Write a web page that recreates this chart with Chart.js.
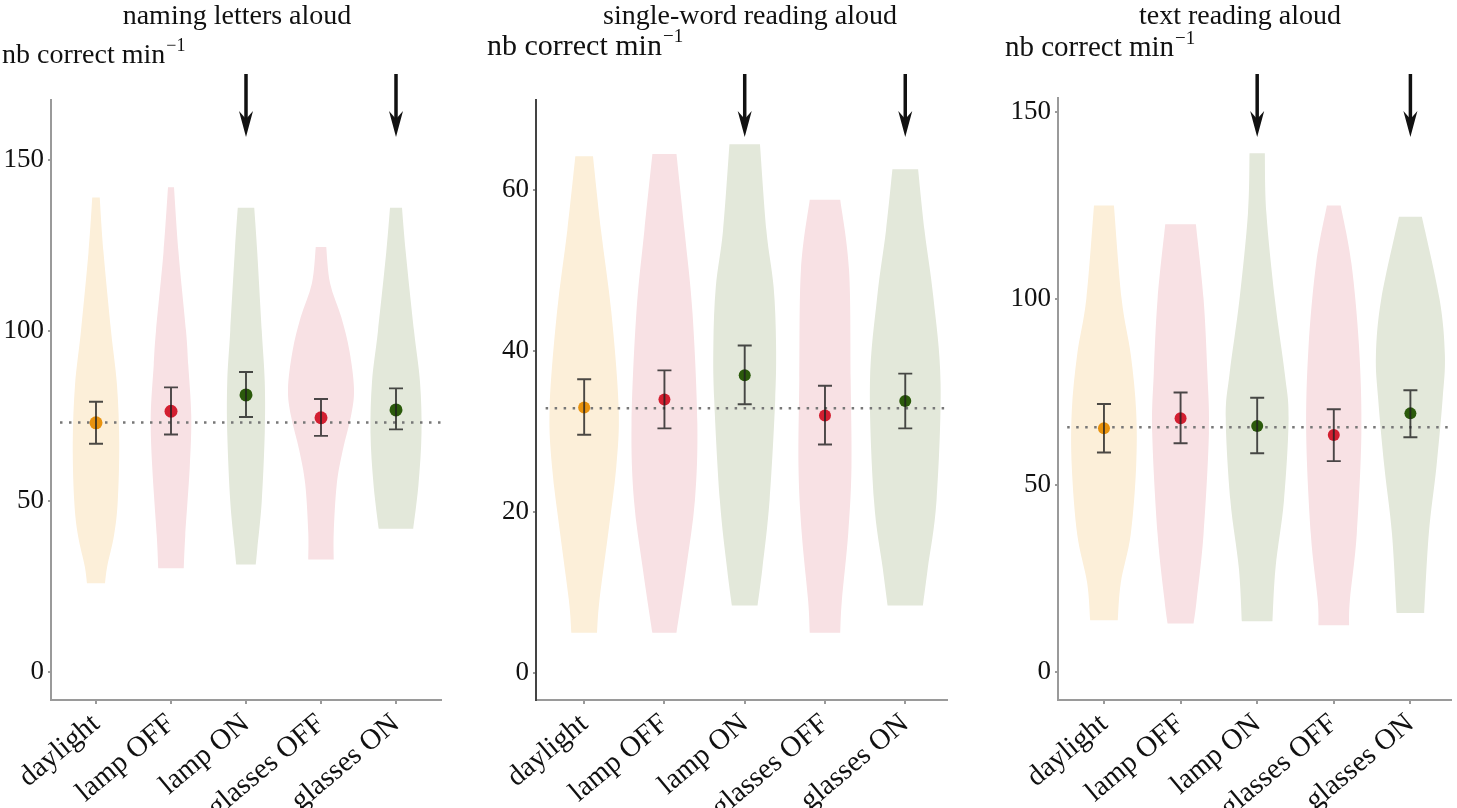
<!DOCTYPE html>
<html>
<head>
<meta charset="utf-8">
<script src="https://cdn.jsdelivr.net/npm/chart.js@4.4.1/dist/chart.umd.min.js"></script>
<style>
  html, body { margin: 0; padding: 0; background: #fff; }
  #wrap { position: relative; width: 1457px; height: 808px; overflow: hidden; }
  canvas { position: absolute; top: 0; }
</style>
</head>
<body>
<div id="wrap">
  <canvas id="letters" width="480" height="808" style="left:0"></canvas>
  <canvas id="words" width="500" height="808" style="left:480px"></canvas>
  <canvas id="text" width="467" height="808" style="left:990px"></canvas>
</div>
<script>
const categories = ['daylight', 'lamp OFF', 'lamp ON', 'glasses OFF', 'glasses ON'];
const panelTitles = ['naming letters aloud', 'single-word reading aloud', 'text reading aloud'];
const yAxisLabel = 'nb correct min';
const yAxisSup = '\u22121';
const arrowCategories = ['lamp ON', 'glasses ON'];

// naming letters aloud
const lettersTicks = [0, 50, 100, 150];
const lettersMean = [73.0, 76.4, 81.2, 74.5, 76.8];
const lettersLow = [66.9, 69.6, 74.7, 69.2, 71.1];
const lettersHigh = [79.2, 83.4, 87.9, 80.0, 83.1];
const lettersBaseline = 73.1;
// violin outlines: [value, half width in category units]
const lettersViolins = [
  [[26, 0.12], [31, 0.15], [40, 0.24], [50, 0.29], [67, 0.31], [84, 0.28], [100, 0.2], [123, 0.1], [139, 0.05]],
  [[30.4, 0.17], [40, 0.19], [60, 0.25], [75, 0.27], [90, 0.23], [100, 0.2], [123, 0.1], [142, 0.04]],
  [[31.5, 0.13], [36, 0.15], [50, 0.21], [70, 0.25], [85, 0.25], [100, 0.21], [123, 0.15], [136, 0.11]],
  [[33, 0.17], [41, 0.17], [55, 0.21], [65, 0.29], [75, 0.4], [83, 0.44], [94, 0.38], [104, 0.27], [114, 0.12], [124.5, 0.07]],
  [[42, 0.23], [55, 0.3], [70, 0.34], [85, 0.32], [100, 0.24], [123, 0.13], [136, 0.08]],
];

// single-word reading aloud
const wordsTicks = [0, 20, 40, 60];
const wordsMean = [33.0, 34.0, 37.0, 32.0, 33.8];
const wordsLow = [29.6, 30.4, 33.4, 28.4, 30.4];
const wordsHigh = [36.5, 37.6, 40.7, 35.7, 37.2];
const wordsBaseline = 32.9;
const wordsViolins = [
  [[5, 0.16], [9, 0.19], [17.4, 0.3], [25.6, 0.4], [33, 0.43], [44.7, 0.34], [55, 0.21], [64.2, 0.11]],
  [[5, 0.15], [13, 0.27], [21.5, 0.38], [31, 0.41], [44.7, 0.35], [55, 0.25], [64.5, 0.15]],
  [[8.4, 0.16], [13, 0.22], [21.5, 0.31], [34, 0.38], [41, 0.39], [48, 0.36], [55, 0.27], [65.7, 0.19]],
  [[5, 0.19], [9, 0.21], [17.4, 0.29], [25.6, 0.33], [36.4, 0.32], [50, 0.3], [58.8, 0.19]],
  [[8.4, 0.22], [13, 0.28], [21.5, 0.39], [36, 0.44], [46.7, 0.35], [55, 0.24], [62.6, 0.16]],
];

// text reading aloud
const textTicks = [0, 50, 100, 150];
const textMean = [65.3, 68.0, 65.9, 63.5, 69.3];
const textLow = [58.8, 61.3, 58.6, 56.5, 62.9];
const textHigh = [71.8, 74.9, 73.5, 70.4, 75.5];
const textBaseline = 65.6;
const textViolins = [
  [[13.9, 0.18], [24, 0.22], [37, 0.35], [55, 0.42], [70, 0.42], [85, 0.35], [100, 0.23], [125, 0.13]],
  [[13, 0.17], [19.3, 0.21], [37, 0.3], [64, 0.37], [80, 0.35], [100, 0.3], [120, 0.2]],
  [[13.6, 0.2], [28, 0.24], [46, 0.35], [68, 0.41], [80, 0.36], [100, 0.23], [123, 0.12], [139, 0.1]],
  [[12.5, 0.2], [19.3, 0.21], [37, 0.3], [64, 0.36], [87, 0.33], [109.5, 0.23], [125, 0.09]],
  [[15.8, 0.18], [37, 0.24], [55, 0.34], [73, 0.42], [85, 0.45], [100, 0.38], [122, 0.15]],
];

const violinColors = ['#fcefd9', '#f8e1e4', '#e3e8da', '#f8e1e4', '#e3e8da'];
const pointColors = ['#e8920e', '#d31f31', '#2b5a0b', '#d31f31', '#2b5a0b'];
const serif = "'Liberation Serif', 'Times New Roman', serif";
const axisGrey = '#9a9a9a';

const panels = [
  {
    id: 'letters', title: panelTitles[0], ticks: lettersTicks, mean: lettersMean, low: lettersLow, high: lettersHigh,
    baseline: lettersBaseline, violins: lettersViolins,
    yMin: -8.2, yMax: 167.6, xMax: 4.6, axisWidth: 51, padRight: 39, padTop: 100,
    titleX: 237, labelX: 2, labelY: 63, labelSize: 28, yBorder: axisGrey, radius: 6.5,
  },
  {
    id: 'words', title: panelTitles[1], ticks: wordsTicks, mean: wordsMean, low: wordsLow, high: wordsHigh,
    baseline: wordsBaseline, violins: wordsViolins,
    yMin: -3.35, yMax: 71.2, xMax: 4.52, axisWidth: 56, padRight: 33, padTop: 100,
    titleX: 270, labelX: 7, labelY: 55, labelSize: 30, yBorder: '#444', radius: 6,
  },
  {
    id: 'text', title: panelTitles[2], ticks: textTicks, mean: textMean, low: textLow, high: textHigh,
    baseline: textBaseline, violins: textViolins,
    yMin: -7.5, yMax: 153.8, xMax: 4.53, axisWidth: 68, padRight: 0, padTop: 98,
    titleX: 250, labelX: 15, labelY: 56, labelSize: 29, yBorder: axisGrey, radius: 6,
  },
];

// catmull-rom through the outline points, so the widest parts keep their width
function smoothEdge(ctx, pts, move) {
  if (move) ctx.moveTo(pts[0].x, pts[0].y);
  else ctx.lineTo(pts[0].x, pts[0].y);
  for (let k = 0; k < pts.length - 1; k++) {
    const p0 = pts[Math.max(k - 1, 0)];
    const p1 = pts[k];
    const p2 = pts[k + 1];
    const p3 = pts[Math.min(k + 2, pts.length - 1)];
    ctx.bezierCurveTo(
      p1.x + (p2.x - p0.x) / 6, p1.y + (p2.y - p0.y) / 6,
      p2.x - (p3.x - p1.x) / 6, p2.y - (p3.y - p1.y) / 6,
      p2.x, p2.y
    );
  }
}

const violinPlugin = {
  id: 'violins',
  beforeDatasetsDraw(chart, args, opts) {
    const { ctx, scales: { x, y }, chartArea } = chart;
    ctx.save();
    opts.violins.forEach((profile, i) => {
      const left = profile.map(([v, w]) => ({ x: x.getPixelForValue(i - w), y: y.getPixelForValue(v) }));
      const right = profile.map(([v, w]) => ({ x: x.getPixelForValue(i + w), y: y.getPixelForValue(v) })).reverse();
      ctx.beginPath();
      smoothEdge(ctx, left, true);
      smoothEdge(ctx, right, false);
      ctx.closePath();
      ctx.fillStyle = violinColors[i];
      ctx.fill();
    });
    // dotted reference line
    const by = y.getPixelForValue(opts.baseline);
    ctx.beginPath();
    ctx.setLineDash([2.5, 6.5]);
    ctx.lineWidth = 2.5;
    ctx.strokeStyle = '#777';
    ctx.moveTo(x.getPixelForValue(-0.48), by);
    ctx.lineTo(chartArea.right, by);
    ctx.stroke();
    ctx.restore();
  },
  afterDatasetsDraw(chart, args, opts) {
    const { ctx, scales: { x, y } } = chart;
    ctx.save();
    ctx.strokeStyle = 'rgba(30,30,30,0.8)';
    ctx.lineWidth = 1.9;
    opts.low.forEach((lo, i) => {
      const px = x.getPixelForValue(i);
      const y1 = y.getPixelForValue(lo);
      const y2 = y.getPixelForValue(opts.high[i]);
      ctx.beginPath();
      ctx.moveTo(px, y1); ctx.lineTo(px, y2);
      ctx.moveTo(px - 7, y1); ctx.lineTo(px + 7, y1);
      ctx.moveTo(px - 7, y2); ctx.lineTo(px + 7, y2);
      ctx.stroke();
    });
    ctx.restore();
  },
  afterDraw(chart, args, opts) {
    const { ctx, scales: { x } } = chart;
    ctx.save();
    // arrows above the highlighted conditions
    ctx.fillStyle = '#111';
    ctx.strokeStyle = '#111';
    arrowCategories.forEach((name) => {
      const ax = x.getPixelForValue(categories.indexOf(name));
      ctx.beginPath();
      ctx.lineWidth = 3.5;
      ctx.moveTo(ax, 74);
      ctx.lineTo(ax, 122);
      ctx.stroke();
      ctx.beginPath();
      ctx.moveTo(ax, 137);
      ctx.lineTo(ax - 7, 111);
      ctx.lineTo(ax, 119);
      ctx.lineTo(ax + 7, 111);
      ctx.closePath();
      ctx.fill();
    });
    // panel title
    ctx.fillStyle = '#111';
    ctx.textBaseline = 'alphabetic';
    ctx.textAlign = 'center';
    ctx.font = `28px ${serif}`;
    ctx.fillText(opts.title, opts.titleX, 24);
    // y axis label with superscript
    ctx.textAlign = 'left';
    ctx.font = `${opts.labelSize}px ${serif}`;
    ctx.fillText(yAxisLabel, opts.labelX, opts.labelY);
    const w = ctx.measureText(yAxisLabel).width;
    ctx.font = `${Math.round(opts.labelSize * 0.64)}px ${serif}`;
    ctx.fillText(yAxisSup, opts.labelX + w + 1, opts.labelY - opts.labelSize * 0.42);
    ctx.restore();
  },
};

panels.forEach((p) => {
  new Chart(document.getElementById(p.id), {
    type: 'scatter',
    data: {
      datasets: [{
        data: p.mean.map((m, i) => ({ x: i, y: m })),
        pointBackgroundColor: pointColors,
        pointBorderWidth: 0,
        pointRadius: p.radius,
      }],
    },
    plugins: [violinPlugin],
    options: {
      responsive: false,
      animation: false,
      layout: { padding: { top: p.padTop, right: p.padRight, left: 0, bottom: 0 } },
      plugins: {
        legend: { display: false },
        tooltip: { enabled: false },
        violins: p,
      },
      scales: {
        x: {
          type: 'linear',
          min: -0.6,
          max: p.xMax,
          afterBuildTicks: (axis) => { axis.ticks = categories.map((c, i) => ({ value: i })); },
          afterFit: (scale) => { scale.height = 108; },
          ticks: {
            callback: (v) => categories[v],
            minRotation: 40,
            maxRotation: 40,
            autoSkip: false,
            color: '#111',
            padding: 3,
            font: { family: serif, size: 29 },
          },
          grid: { drawOnChartArea: false, drawTicks: true, tickLength: 4, color: axisGrey, lineWidth: 2 },
          border: { display: true, color: axisGrey, width: 2 },
        },
        y: {
          type: 'linear',
          min: p.yMin,
          max: p.yMax,
          afterBuildTicks: (axis) => { axis.ticks = p.ticks.map((v) => ({ value: v })); },
          afterFit: (scale) => { scale.width = p.axisWidth; },
          ticks: {
            color: '#111',
            padding: 4,
            font: { family: serif, size: 27 },
          },
          grid: { drawOnChartArea: false, drawTicks: true, tickLength: 3, color: axisGrey, lineWidth: 2 },
          border: { display: true, color: p.yBorder, width: 2 },
        },
      },
    },
  });
});
</script>
</body>
</html>
